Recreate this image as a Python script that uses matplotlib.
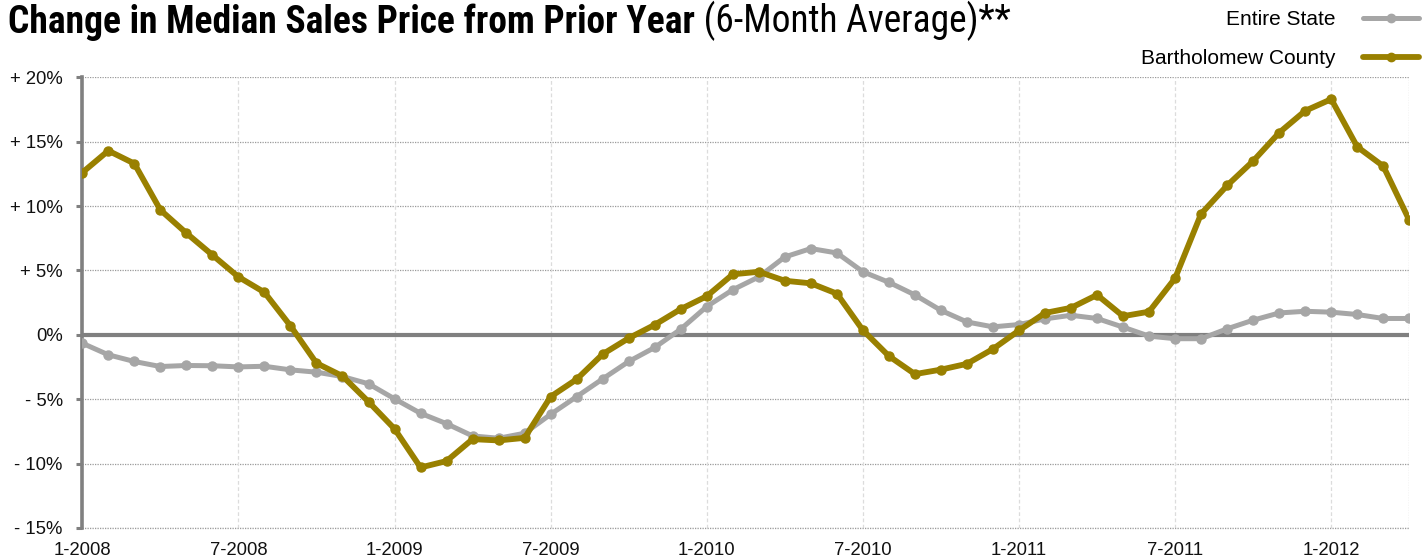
import numpy as np
import matplotlib
matplotlib.use("Agg")
import matplotlib.pyplot as plt

# ---------------- data ----------------
x_tick_labels = ["1-2008", "7-2008", "1-2009", "7-2009", "1-2010",
                 "7-2010", "1-2011", "7-2011", "1-2012"]
y_ticks = [-15, -10, -5, 0, 5, 10, 15, 20]
y_tick_labels = ["- 15%", "- 10%", "- 5%", "0%", "+ 5%", "+ 10%", "+ 15%", "+ 20%"]

entire_state = [
    -0.65, -1.55, -2.07, -2.46, -2.38, -2.40, -2.49, -2.44, -2.72, -2.90, -3.24, -3.80,
    -4.97, -6.09, -6.90, -7.85, -8.03, -7.64, -6.17, -4.80, -3.42, -2.07, -0.98, 0.44,
    2.20, 3.50, 4.50, 6.05, 6.70, 6.36, 4.90, 4.08, 3.10, 1.90, 1.00, 0.62,
    0.80, 1.24, 1.52, 1.27, 0.60, -0.10, -0.30, -0.30, 0.47, 1.14, 1.70, 1.83,
    1.76, 1.58, 1.27, 1.27,
]
bartholomew = [
    12.6, 14.3, 13.3, 9.7, 7.9, 6.2, 4.5, 3.3, 0.7, -2.2, -3.2, -5.2,
    -7.3, -10.3, -9.8, -8.1, -8.2, -8.0, -4.8, -3.45, -1.5, -0.26, 0.78, 2.0,
    3.0, 4.7, 4.9, 4.2, 4.0, 3.2, 0.36, -1.65, -3.05, -2.7, -2.25, -1.1,
    0.34, 1.7, 2.1, 3.1, 1.45, 1.8, 4.4, 9.4, 11.6, 13.5, 15.7, 17.4,
    18.3, 14.6, 13.1, 8.9,
]
series_names = ["Entire State", "Bartholomew County"]
title_bold = "Change in Median Sales Price from Prior Year"
title_regular = " (6-Month Average)**"

# ---------------- style ----------------
GRAY = "#a6a6a6"
GOLD = "#998000"
AXIS_GRAY = "#808080"
TITLE_FAMILY = ["Roboto Condensed", "Barlow Condensed", "DejaVu Sans"]

plt.rcParams["font.family"] = ["Liberation Sans", "DejaVu Sans"]

fig = plt.figure(figsize=(14.25, 5.59), dpi=100)
fig.patch.set_facecolor("white")
ax = fig.add_axes([82.3 / 1425, 1 - 528 / 559, (1409.3 - 82.3) / 1425, (528 - 77.3) / 559])

months = np.arange(len(entire_state))

ax.set_axisbelow(True)
for y in y_ticks:
    if y != 0:
        ax.axhline(y, color="#9a9a9a", lw=0.9, ls=(0, (1, 1)), zorder=0)
for xv in range(0, len(months), 6):
    ax.axvline(xv, color="#dcdcdc", lw=0.9, ls=(0, (3, 2)), zorder=0)
ax.axvline(len(months) - 1, color="#b0b0b0", lw=0.9, ls=(0, (1, 1)), zorder=0)
ax.axhline(0, color=AXIS_GRAY, lw=3.0, zorder=1)

l1, = ax.plot(months, entire_state, color=GRAY, lw=3.6, marker="o", ms=6.5,
              solid_capstyle="round", solid_joinstyle="round", zorder=3)
l2, = ax.plot(months, bartholomew, color=GOLD, lw=4.2, marker="o", ms=6.5,
              solid_capstyle="round", solid_joinstyle="round", zorder=4)

ax.set_xlim(0, len(months) - 1)
ax.set_ylim(-15, 20)
ax.set_xticks(np.arange(0, len(months), 6))
ax.set_xticklabels(x_tick_labels)
ax.set_yticks(y_ticks)
ax.set_yticklabels(y_tick_labels)

for s in ["top", "right", "bottom"]:
    ax.spines[s].set_visible(False)
ax.spines["left"].set_color(AXIS_GRAY)
ax.spines["left"].set_linewidth(2.6)

ax.tick_params(axis="y", length=4.5, width=2.2, color=AXIS_GRAY, pad=9.5,
               labelsize=13.3, labelcolor="#111111")
ax.tick_params(axis="x", length=0, pad=10, labelsize=13.3, labelcolor="#111111")

ax.axhline(-15, color="#9a9a9a", lw=0.9, ls=(0, (1, 1)), zorder=2, clip_on=False)

leg = ax.legend([l1, l2], series_names, loc="upper right",
                bbox_to_anchor=(1419 / 1425, 1 - 10 / 559), bbox_transform=fig.transFigure,
                frameon=False, markerfirst=False, fontsize=15, handlelength=2.7,
                handletextpad=1.3, labelspacing=0.97, borderpad=0, borderaxespad=0,
                numpoints=1)
for h in leg.legend_handles:
    h.set_markersize(6)

t1 = fig.text(8 / 1425, 1 - 33 / 559, title_bold, fontsize=27, fontweight="heavy",
              family=TITLE_FAMILY, fontstretch="condensed",
              va="baseline", ha="left", color="black")
fig.canvas.draw()
ax.annotate(title_regular, xy=(1, 0), xycoords=t1, va="bottom", ha="left",
            fontsize=27, family=TITLE_FAMILY, fontstretch="condensed",
            color="black", annotation_clip=False)

fig.savefig("out.png", dpi=100, facecolor="white")
